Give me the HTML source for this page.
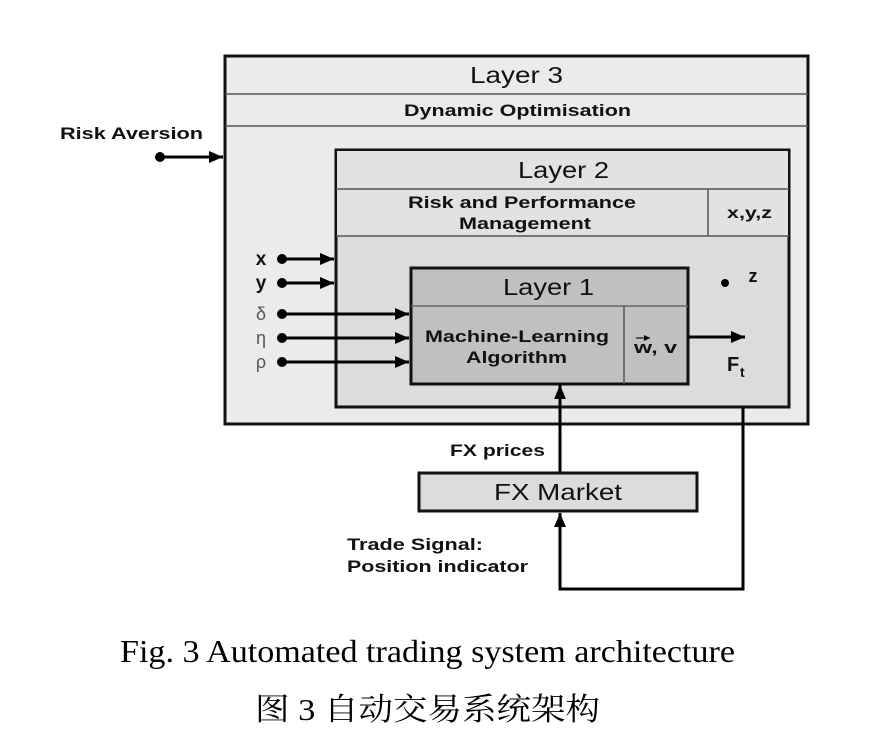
<!DOCTYPE html>
<html><head><meta charset="utf-8"><style>
html,body{margin:0;padding:0;background:#fff;}
svg{display:block;}
.b{font-family:"Liberation Sans",sans-serif;font-weight:bold;fill:#111;}
.n{font-family:"Liberation Sans",sans-serif;fill:#111;}
</style></head><body>
<svg width="886" height="748" viewBox="0 0 886 748" xmlns="http://www.w3.org/2000/svg">
<defs><marker id="a" viewBox="0 0 10 10" refX="10" refY="5" markerWidth="6" markerHeight="6" markerUnits="userSpaceOnUse" orient="auto"><path d="M0,0 L10,5 L0,10 z" fill="#000"/></marker>
<marker id="h" viewBox="0 0 10 10" refX="10" refY="5" markerWidth="14" markerHeight="12" markerUnits="userSpaceOnUse" orient="auto" preserveAspectRatio="none"><path d="M0,0 L10,5 L0,10 z" fill="#000"/></marker></defs>
<rect x="225" y="56" width="583" height="368" fill="#ebebeb" stroke="#111" stroke-width="3"/>
<line x1="225" y1="94" x2="808" y2="94" stroke="#555" stroke-width="1.5"/>
<line x1="225" y1="126" x2="808" y2="126" stroke="#555" stroke-width="1.5"/>
<text x="470" y="83" class="n" font-size="23" textLength="93" lengthAdjust="spacingAndGlyphs">Layer 3</text>
<text x="404" y="116" class="b" font-size="17" textLength="227" lengthAdjust="spacingAndGlyphs">Dynamic Optimisation</text>
<rect x="336" y="150" width="453" height="257" fill="#dcdcdc" stroke="#111" stroke-width="3"/>
<rect x="337" y="151" width="451" height="85" fill="#e2e2e2"/>
<line x1="336" y1="189" x2="789" y2="189" stroke="#555" stroke-width="1.5"/>
<line x1="336" y1="236" x2="789" y2="236" stroke="#555" stroke-width="1.5"/>
<line x1="708" y1="189" x2="708" y2="236" stroke="#555" stroke-width="1.5"/>
<text x="518" y="178" class="n" font-size="23" textLength="91" lengthAdjust="spacingAndGlyphs">Layer 2</text>
<text x="408" y="208" class="b" font-size="17" textLength="228" lengthAdjust="spacingAndGlyphs">Risk and Performance</text>
<text x="459" y="229" class="b" font-size="17" textLength="132" lengthAdjust="spacingAndGlyphs">Management</text>
<text x="727" y="218" class="b" font-size="16" textLength="45" lengthAdjust="spacingAndGlyphs">x,y,z</text>
<rect x="411" y="268" width="277" height="116" fill="#c0c0c0" stroke="#111" stroke-width="3"/>
<line x1="411" y1="306" x2="688" y2="306" stroke="#666" stroke-width="1.5"/>
<line x1="624" y1="306" x2="624" y2="384" stroke="#555" stroke-width="1.5"/>
<text x="503" y="295" class="n" font-size="23" textLength="91" lengthAdjust="spacingAndGlyphs">Layer 1</text>
<text x="425" y="342" class="b" font-size="17" textLength="184" lengthAdjust="spacingAndGlyphs">Machine-Learning</text>
<text x="466" y="363" class="b" font-size="17" textLength="101" lengthAdjust="spacingAndGlyphs">Algorithm</text>
<text x="634" y="353" class="b" font-size="17" textLength="43" lengthAdjust="spacingAndGlyphs">w, v</text>
<line x1="636" y1="338" x2="650" y2="338" stroke="#111" stroke-width="1.2" marker-end="url(#a)"/>
<g stroke="#000" stroke-width="3" marker-end="url(#h)">
<line x1="282" y1="259" x2="334" y2="259"/>
<line x1="282" y1="283" x2="334" y2="283"/>
<line x1="282" y1="314" x2="409" y2="314"/>
<line x1="282" y1="338" x2="409" y2="338"/>
<line x1="282" y1="362" x2="409" y2="362"/>
<line x1="160" y1="157" x2="223" y2="157"/>
<line x1="689" y1="337" x2="745" y2="337"/>
<line x1="560" y1="472" x2="560" y2="385"/>
</g>
<g fill="#000">
<circle cx="282" cy="259" r="5"/><circle cx="282" cy="283" r="5"/><circle cx="282" cy="314" r="5"/><circle cx="282" cy="338" r="5"/><circle cx="282" cy="362" r="5"/><circle cx="160" cy="157" r="5"/><circle cx="725" cy="283" r="4"/>
</g>
<text x="261" y="265" class="b" font-size="19" text-anchor="middle">x</text>
<text x="261" y="289" class="b" font-size="19" text-anchor="middle">y</text>
<text x="261" y="320" class="n" font-size="18" text-anchor="middle" style="fill:#555">δ</text>
<text x="261" y="344" class="n" font-size="18" text-anchor="middle" style="fill:#555">η</text>
<text x="261" y="368" class="n" font-size="18" text-anchor="middle" style="fill:#555">ρ</text>
<text x="753" y="282" class="b" font-size="18" text-anchor="middle">z</text>
<text x="727" y="371" class="b" font-size="20">F</text><text x="740" y="377" class="b" font-size="14">t</text>
<text x="60" y="139" class="b" font-size="17" textLength="143" lengthAdjust="spacingAndGlyphs">Risk Aversion</text>
<rect x="419" y="473" width="278" height="38" fill="#dcdcdc" stroke="#111" stroke-width="3"/>
<text x="494" y="500" class="n" font-size="23" textLength="128" lengthAdjust="spacingAndGlyphs">FX Market</text>
<text x="450" y="456" class="b" font-size="17" textLength="95" lengthAdjust="spacingAndGlyphs">FX prices</text>
<polyline points="743,408 743,589 560,589 560,513" fill="none" stroke="#000" stroke-width="3" marker-end="url(#h)"/>
<text x="347" y="550" class="b" font-size="17" textLength="136" lengthAdjust="spacingAndGlyphs">Trade Signal:</text>
<text x="347" y="572" class="b" font-size="17" textLength="181" lengthAdjust="spacingAndGlyphs">Position indicator</text>
<text x="120" y="662" font-family="Liberation Serif,serif" font-size="32" fill="#000" textLength="615" lengthAdjust="spacingAndGlyphs">Fig. 3 Automated trading system architecture</text>
<text x="255" y="720" font-family="Liberation Serif,'Noto Serif CJK SC',serif" font-size="31" fill="#000" textLength="345" lengthAdjust="spacingAndGlyphs">图 3  自动交易系统架构</text>
</svg>
</body></html>
